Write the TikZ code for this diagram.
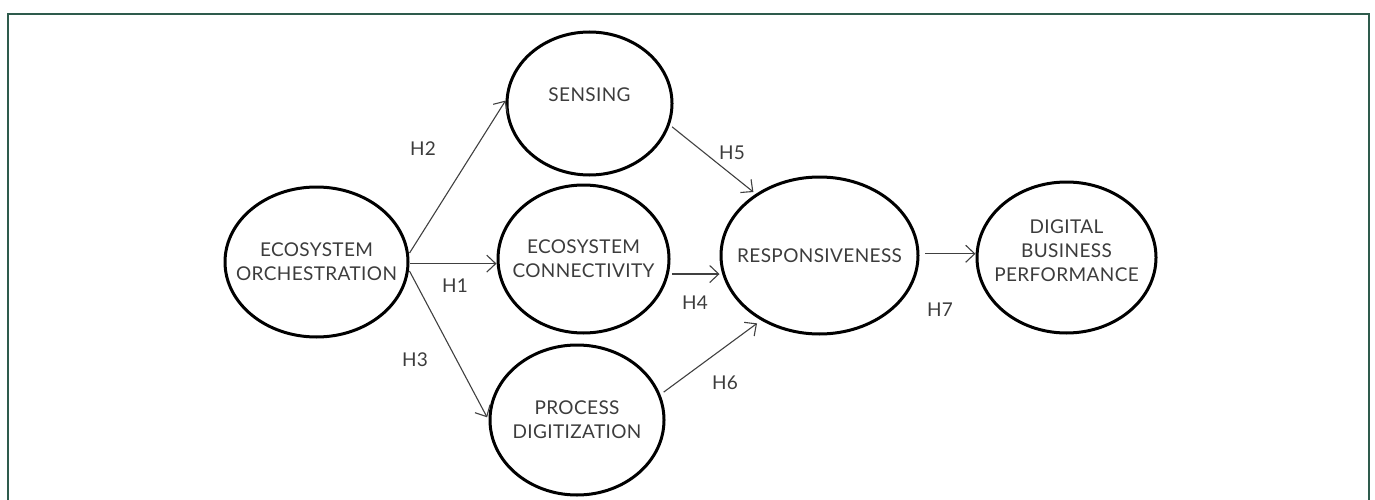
\documentclass[tikz,border=0pt]{standalone}
\usepackage{fontspec}
\setmainfont{Lato}[LetterSpace=2]
\usetikzlibrary{shapes.geometric,arrows.meta}
\definecolor{framegreen}{HTML}{2E5B4C}
\definecolor{txt}{HTML}{3C3C3C}
\definecolor{lnk}{HTML}{404040}
\tikzset{
  construct/.style={ellipse, draw=black, line width=3pt, inner sep=0pt},
  caption/.style={text=txt, align=center, inner sep=0pt,
    font=\fontsize{19}{24}\selectfont},
  link/.style={draw=lnk, line width=1.1pt,
    -{Straight Barb[length=9pt,width=17pt,line width=1.1pt]}},
  hyp/.style={text=txt, font=\fontsize{19}{22}\selectfont, inner sep=0pt}
}
\begin{document}
\begin{tikzpicture}[x=1pt,y=-1pt]
  \useasboundingbox (0,0) rectangle (1375,500);
  % outer frame, open at the bottom edge
  \draw[framegreen, line width=1.6pt] (8,520) -- (8,14) -- (1369,14) -- (1369,520);

  % constructs (fixed-size ellipses, caption set as a centred label)
  \node[construct, minimum width=183pt, minimum height=150pt,
    label={[caption]center:ECOSYSTEM\\ORCHESTRATION}] (orch) at (316.5,262) {};
  \node[construct, minimum width=165pt, minimum height=143pt,
    label={[caption, yshift=9pt]center:SENSING}] (sens) at (589.5,103.5) {};
  \node[construct, minimum width=171pt, minimum height=148pt,
    label={[caption]center:ECOSYSTEM\\CONNECTIVITY}] (conn) at (583.5,259) {};
  \node[construct, minimum width=174pt, minimum height=150pt,
    label={[caption]center:PROCESS\\DIGITIZATION}] (proc) at (577,420) {};
  \node[construct, minimum width=197pt, minimum height=157pt,
    label={[caption]center:RESPONSIVENESS}] (resp) at (819.5,255.5) {};
  \node[construct, minimum width=179pt, minimum height=151pt,
    label={[caption, yshift=7pt]center:DIGITAL\\BUSINESS\\PERFORMANCE}] (dbp) at (1066.5,257.5) {};

  % hypothesised paths
  \draw[link, shorten <=1pt] (orch.5) -- (sens.178);
  \draw[link, shorten <=1pt] (orch.-1) -- (orch.-1 -| conn.west);
  \draw[link, shorten <=1pt, shorten >=3pt] (orch.-5) -- (proc.west);
  \draw[link, shorten <=3pt] (conn.-10) -- (conn.-10 -| resp.west);
  \draw[link, shorten <=3pt, shorten >=3pt] (sens.-15) -- (resp.136);
  \draw[link, shorten <=4pt, shorten >=5pt] (proc.17) -- (resp.228);
  \draw[link, shorten <=6pt] (resp.1) -- (resp.1 -| dbp.west);

  % path labels
  \node[hyp] (h1) at (455,286) {H1};
  \node[hyp] (h2) at (423,149) {H2};
  \node[hyp] (h3) at (415,360) {H3};
  \node[hyp] (h4) at (695,303) {H4};
  \node[hyp] (h5) at (732,153) {H5};
  \node[hyp] (h6) at (725,383) {H6};
  \node[hyp] (h7) at (940,310) {H7};
\end{tikzpicture}
\end{document}
